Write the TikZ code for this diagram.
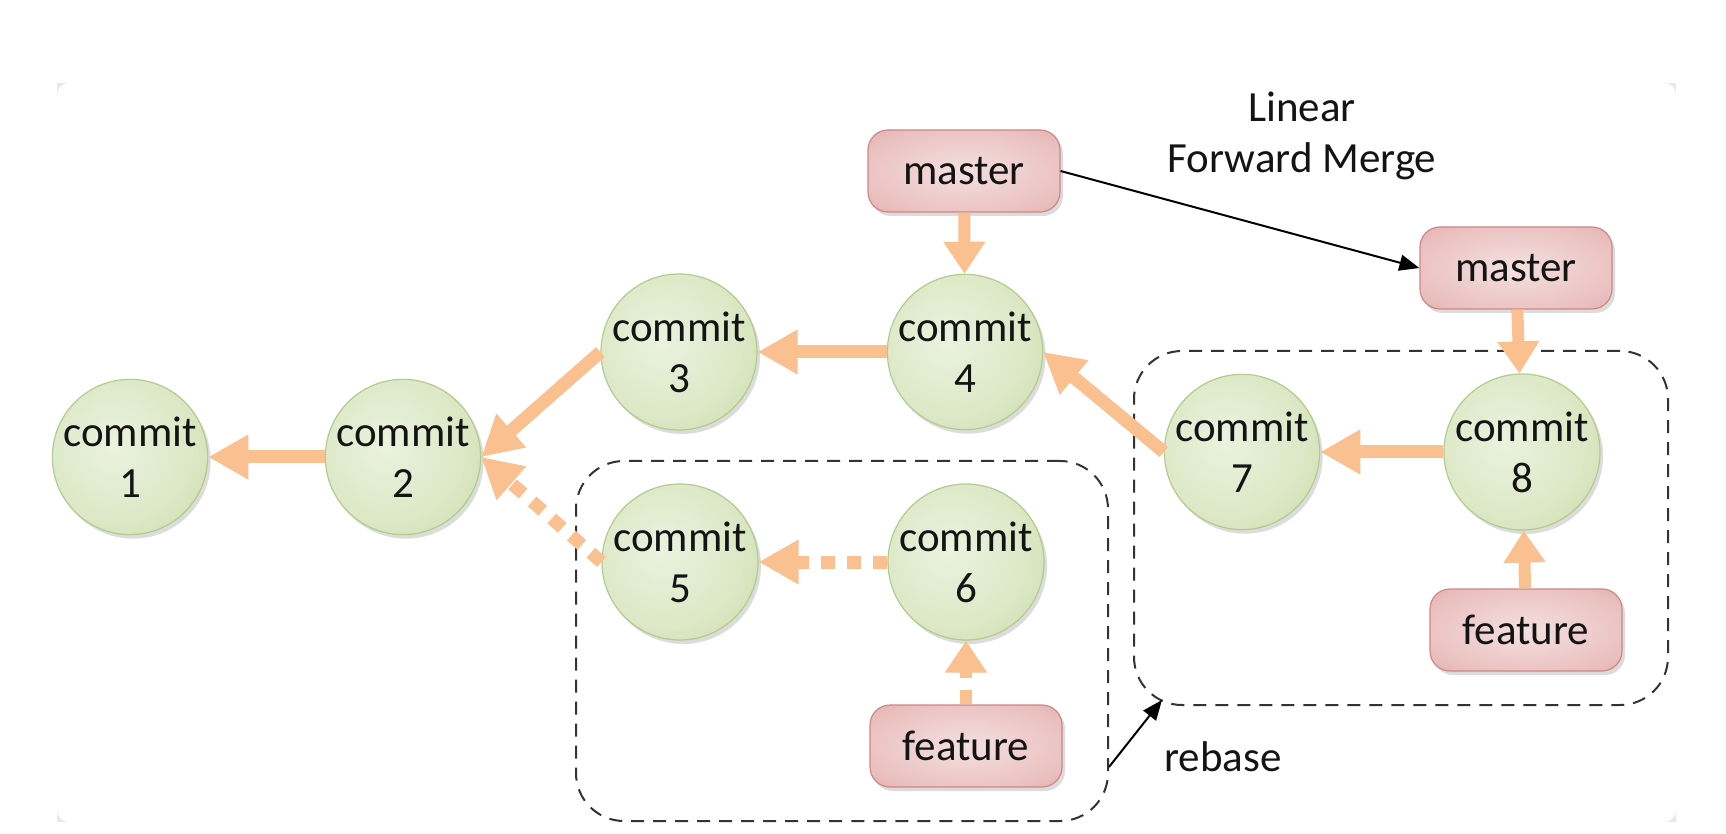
\documentclass[tikz,border=0pt]{standalone}
\usepackage{fontspec}
\setmainfont{Carlito}
\usetikzlibrary{arrows.meta,shadows,calc}
\definecolor{arr}{HTML}{FAC090}
\definecolor{gin}{HTML}{EBF2DF}
\definecolor{gmid}{HTML}{DCE8C6}
\definecolor{gout}{HTML}{BFD495}
\definecolor{gdraw}{HTML}{B3CB8C}
\definecolor{pin}{HTML}{F4E0DF}
\definecolor{pmid}{HTML}{EAC0BF}
\definecolor{pout}{HTML}{D58C8A}
\definecolor{pdraw}{HTML}{CD8886}
\definecolor{txt}{HTML}{141414}
\pgfdeclareradialshading{cshade}{\pgfpoint{-6bp}{4bp}}{color(0bp)=(gin); color(24bp)=(gmid); color(48bp)=(gout); color(80bp)=(gout)}
\pgfdeclareradialshading{pshade}{\pgfpoint{0bp}{0bp}}{color(0bp)=(pin); color(28bp)=(pmid); color(52bp)=(pout); color(80bp)=(pout)}
\begin{document}
\begin{tikzpicture}[x=0.5pt,y=-0.5pt,
  every node/.style={font=\fontsize{21.5}{25.5}\selectfont, text=txt},
  commit/.style={circle, minimum size=73pt, inner sep=0pt, align=center,
    draw=gdraw, line width=0.6pt, shading=cshade,
    drop shadow={shadow xshift=1.5pt, shadow yshift=-2pt, fill=black!45, opacity=0.3}},
  ref/.style={rectangle, rounded corners=10pt, minimum width=96pt, minimum height=41pt,
    draw=pdraw, line width=0.6pt, shading=pshade,
    drop shadow={shadow xshift=1.5pt, shadow yshift=-2pt, fill=black!45, opacity=0.3}},
  group/.style={draw=black!80, dash pattern=on 6.5pt off 4.5pt, line width=1pt,
    rounded corners=24pt, inner sep=0pt},
  big/.style={draw=arr, line width=6.5pt, -{Triangle[length=20pt,width=21pt]}},
  ptr/.style={draw=arr, line width=6pt, -{Triangle[length=16pt,width=20pt]}},
  dots/.style={dash pattern=on 7pt off 6pt},
  blk/.style={draw=black, line width=1pt, -{Triangle[length=10pt,width=8pt]}}
]
\useasboundingbox (0,0) rectangle (1726,834);
\fill[black!9] (57,83) rectangle (1676,822);
\fill[white, rounded corners=6pt] (57,83) rectangle (1676,822);

% groups
\node[group, minimum width=266pt, minimum height=180pt] (g1) at (842,641) {};
\node[group, minimum width=267pt, minimum height=177pt] (g2) at (1401,528) {};

% commits
\node[commit] (c1) at (130,457) {commit\\1};
\node[commit] (c2) at (403,457) {commit\\2};
\node[commit] (c3) at (679,352) {commit\\3};
\node[commit] (c4) at (965,352) {commit\\4};
\node[commit] (c5) at (680,562) {commit\\5};
\node[commit] (c6) at (966,562) {commit\\6};
\node[commit] (c7) at (1242,452) {commit\\7};
\node[commit] (c8) at (1522,452) {commit\\8};

% refs
\node[ref] (m1) at (964,171) {master};
\node[ref] (m2) at (1516,268) {master};
\node[ref] (f1) at (966,746) {feature};
\node[ref] (f2) at (1526,630) {feature};

% labels
\node[align=center, inner sep=0pt] (lfm) at (1302,136) {Linear\\[-0.3pt]Forward Merge};
\node[inner sep=0pt] (rbl) at (1223,757) {rebase};

% orange arrows
\draw[big] (c2) -- (c1);
\draw[big] (c3.west) -- (c2.east);
\draw[big] (c4) -- (c3);
\draw[big] (c7.west) -- (c4.east);
\draw[big] (c8) -- (c7);
\draw[big, dots] (c5.west) -- (c2.east);
\draw[big, dots] (c6) -- (c5);
\draw[ptr] (m1) -- (c4);
\draw[ptr] (m2) -- (c8);
\draw[ptr] (f2) -- (c8);
\draw[ptr, dots] (f1) -- (c6);

% black arrows
\draw[blk] (m1.east) -- (m2.west);
\coordinate (rbs) at ($(g1.south east)+(0,-55)$);
\coordinate (rbe) at (1162,700);
\draw[blk] (rbs) -- (rbe);
\end{tikzpicture}
\end{document}
